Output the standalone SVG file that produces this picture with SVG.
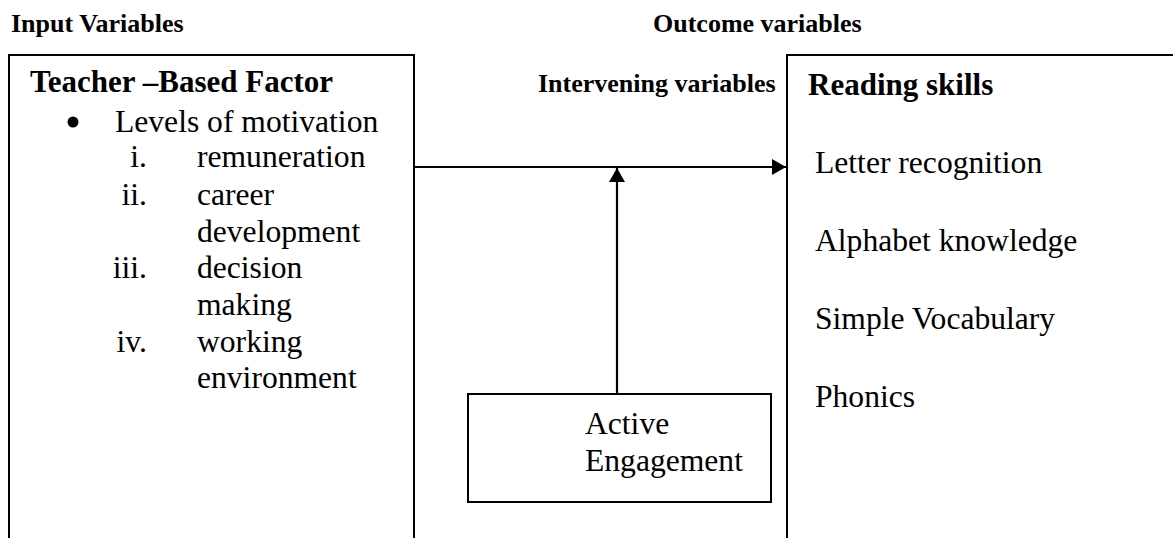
<svg xmlns="http://www.w3.org/2000/svg" width="1173" height="538" viewBox="0 0 1173 538">
<style>
text{font-family:"Liberation Serif","Times New Roman",serif;fill:#000}
.lbl{font-weight:bold;font-size:26px}
.hd{font-weight:bold;font-size:31px}
.t{font-size:31.6px}
.box{fill:none;stroke:#000;stroke-width:2}
.ln{fill:none;stroke:#000;stroke-width:2.2}
</style>
<defs>
<marker id="ah" viewBox="0 0 14 16" refX="14" refY="8" markerWidth="14" markerHeight="16" markerUnits="userSpaceOnUse" orient="auto">
<path d="M0,0 L14,8 L0,16 Z" fill="#000"/>
</marker>
</defs>
<rect width="1173" height="538" fill="#fff"/>
<text class="lbl" x="11" y="32">Input Variables</text>
<text class="lbl" x="653" y="32">Outcome variables</text>
<text class="lbl" x="538" y="92">Intervening variables</text>
<g id="input">
<path class="box" d="M9,545 V55 H414 V545"/>
<text class="hd" x="30" y="92">Teacher –Based Factor</text>
<circle cx="73" cy="122" r="5.5" fill="#000"/>
<text class="t" x="115" y="132">Levels of motivation</text>
<g class="t" text-anchor="end">
<text class="t" x="147" y="167">i.</text>
<text class="t" x="147" y="205">ii.</text>
<text class="t" x="147" y="278">iii.</text>
<text class="t" x="147" y="352">iv.</text>
</g>
<text class="t" x="197" y="167">remuneration</text>
<text class="t" x="197" y="205">career</text>
<text class="t" x="197" y="242">development</text>
<text class="t" x="197" y="278">decision</text>
<text class="t" x="197" y="315">making</text>
<text class="t" x="197" y="352">working</text>
<text class="t" x="197" y="388">environment</text>
</g>
<g id="outcome">
<path class="box" d="M787,545 V55 H1180"/>
<text class="hd" x="808" y="95">Reading skills</text>
<text class="t" x="815" y="173">Letter recognition</text>
<text class="t" x="815" y="251">Alphabet knowledge</text>
<text class="t" x="815" y="329">Simple Vocabulary</text>
<text class="t" x="815" y="407">Phonics</text>
</g>
<g id="intervening">
<rect class="box" x="468" y="394" width="303" height="108"/>
<text class="t" x="585" y="434">Active</text>
<text class="t" x="585" y="471">Engagement</text>
</g>
<g id="connectors">
<line class="ln" x1="414" y1="167" x2="786" y2="167" marker-end="url(#ah)"/>
<line class="ln" x1="617" y1="394" x2="617" y2="168" marker-end="url(#ah)"/>
</g>
</svg>
